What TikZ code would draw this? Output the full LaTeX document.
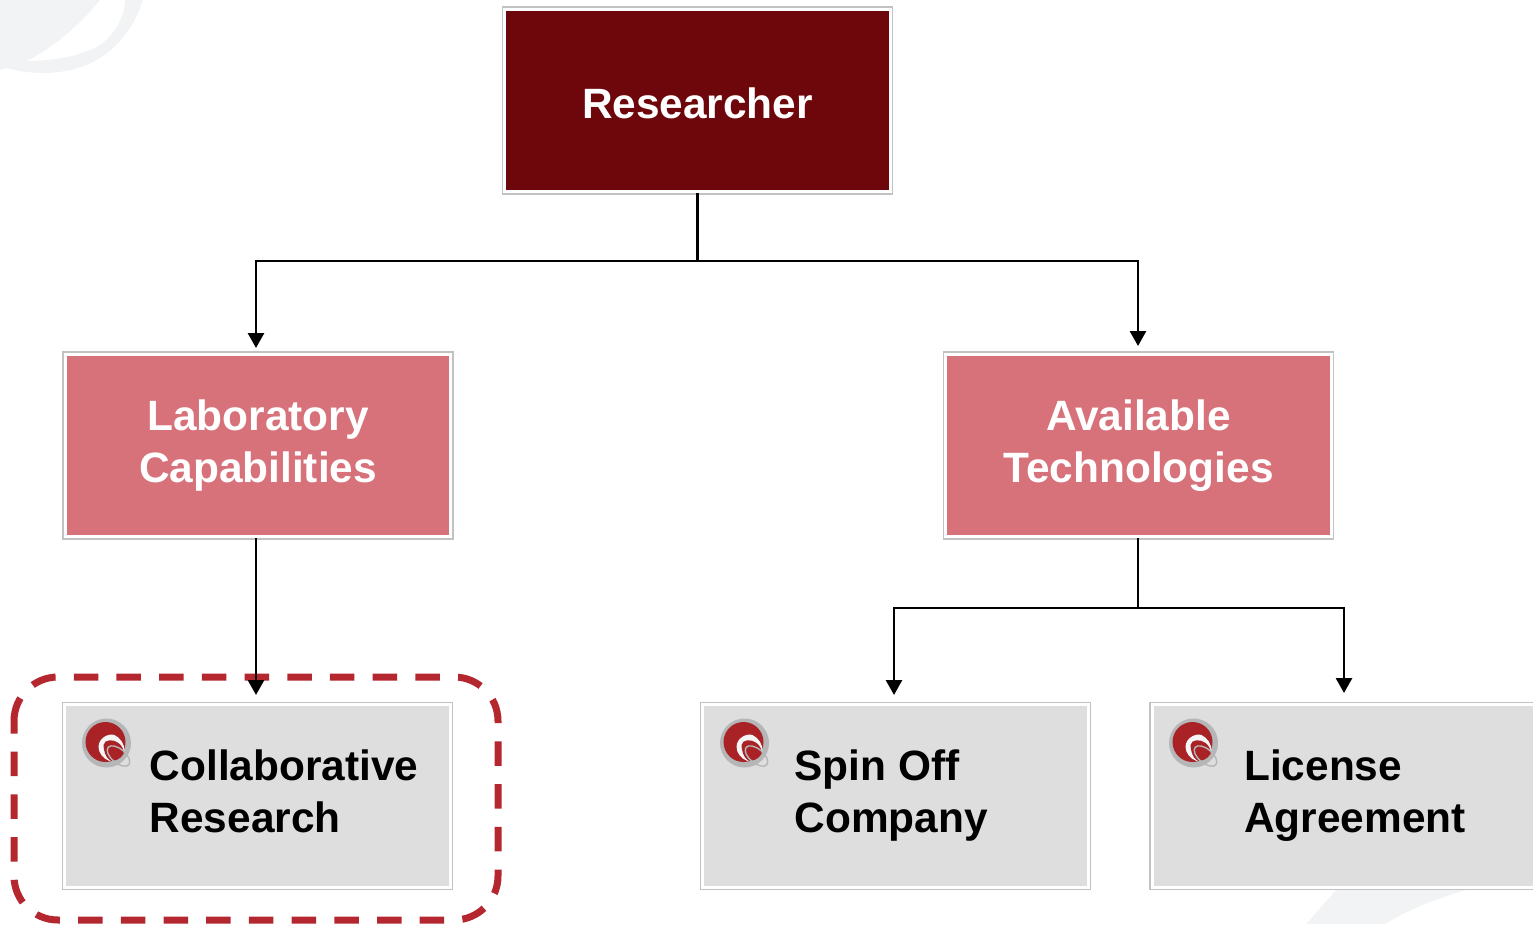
\documentclass[tikz,border=0pt]{standalone}
\usepackage{fontspec}
\setmainfont{Liberation Sans}
\usetikzlibrary{arrows.meta}
\definecolor{darkred}{HTML}{6E070B}
\definecolor{pinkred}{HTML}{D7727A}
\definecolor{boxgray}{HTML}{DEDEDE}
\definecolor{dashred}{HTML}{B5272F}
\definecolor{logored}{HTML}{A82226}
\definecolor{logogray}{HTML}{B4B6B8}
\definecolor{swoosh}{HTML}{F2F3F4}
\tikzset{
  boxbase/.style={rectangle, draw=white, line width=3pt, inner sep=0pt, minimum width=385.5pt, minimum height=182.5pt,
    preaction={draw=black!24, line width=6pt}, font=\fontsize{42.4}{52}\selectfont\bfseries, align=center},
  topbox/.style={boxbase, fill=darkred, text=white},
  midbox/.style={boxbase, fill=pinkred, text=white},
  leafbox/.style={boxbase, fill=boxgray},
  leaftext/.style={anchor=west, inner sep=0pt, align=left, font=\fontsize{42.4}{52}\selectfont\bfseries, text=black},
  conn/.style={draw=black, line width=2.8pt},
  arrowconn/.style={conn, -{Triangle[length=15pt,width=16pt]}},
  selectbox/.style={draw=dashred, line width=7pt, rounded corners=44pt, dash pattern=on 24.5pt off 18.2pt, dash phase=12pt},
  logo/.pic={
    \fill[logogray] (0,0) circle (24.5);
    \fill[logored] (-1,-1) circle (20);
    \fill[white!88!logogray] (-8,4) .. controls (-8,-5) and (2,-10) .. (8,-8) .. controls (14,-5) and (18,1) .. (18,8) -- (3,18) .. controls (-3,16) and (-8,10) .. (-8,4) -- cycle;
    \fill[logored] (-3,2) .. controls (-2,-4) and (7,-4) .. (12,0) .. controls (16,3) and (18,8) .. (17,11) .. controls (14,16) and (8,19) .. (3,17) .. controls (-1,14) and (-3,7) .. (-3,2) -- cycle;
    \draw[logogray, line width=1.4pt, rotate around={-40:(12,13)}] (12,13) ellipse (13.5 and 7);
  }
}
\begin{document}
\begin{tikzpicture}[x=1pt,y=-1pt]
\useasboundingbox (0,0) rectangle (1533,924);
% faint background swooshes
\fill[swoosh] (0,0) -- (100,0) .. controls (80,25) and (50,50) .. (28,60) -- (0,70) -- cycle;
\fill[swoosh] (125,0) -- (143,0) .. controls (128,45) and (95,72) .. (45,73) .. controls (25,73) and (12,70) .. (0,66) -- (10,60) .. controls (30,62) and (70,62) .. (100,45) .. controls (115,35) and (125,15) .. (125,0) -- cycle;
\fill[swoosh] (1337,889) -- (1470,889) .. controls (1430,900) and (1405,912) .. (1385,924) -- (1306,924) -- cycle;
% boxes
\node[topbox] (researcher) at (697.5,100.5) {\raisebox{-17.5pt}[0pt][0pt]{Researcher}};
\node[midbox] (laboratory) at (258,445.5) {Laboratory\\Capabilities};
\node[midbox] (available) at (1138.5,445.5) {Available\\Technologies};
\node[leafbox] (collab) at (257.5,796) {};
\node[leafbox] (spin) at (895.5,796) {};
\node[leafbox] (license) at (1345,796) {};
% leaf labels
\node[leaftext] (collabtext) at (149.5,796) {\strut Collaborative\\\strut Research};
\node[leaftext] (spintext) at (794.5,796) {\strut Spin Off\\\strut Company};
\node[leaftext] (licensetext) at (1244,796) {\strut License\\\strut Agreement};
% logos
\pic at (106.5,743) {logo};
\pic at (744.5,743) {logo};
\pic at (1193.5,743) {logo};
% selection outline
\coordinate (selnw) at (14,677);
\coordinate (selse) at (498,920);
\draw[selectbox] (selnw) rectangle (selse);
% connectors
\coordinate (topjoin) at (697.5,261);
\coordinate (rightjoin) at (1138,608);
\coordinate (labin) at (256,348);
\coordinate (availin) at (1138,346);
\coordinate (collabin) at (256,695);
\coordinate (spinin) at (894,695);
\coordinate (licensein) at (1344,693);
\draw[conn] (researcher.south) -- (topjoin);
\draw[arrowconn] (topjoin) -| (labin);
\draw[arrowconn] (topjoin) -| (availin);
\draw[arrowconn] (laboratory.south -| collabin) -- (collabin);
\draw[conn] (available.south -| rightjoin) -- (rightjoin);
\draw[arrowconn] (rightjoin) -| (spinin);
\draw[arrowconn] (rightjoin) -| (licensein);
\end{tikzpicture}
\end{document}
